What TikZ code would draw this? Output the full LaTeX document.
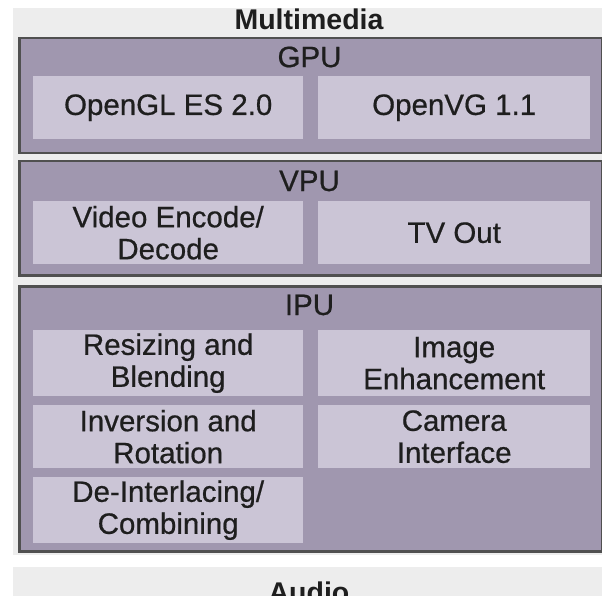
\documentclass[tikz,border=0pt]{standalone}
\usepackage{fontspec}
\setmainfont{Liberation Sans}
\definecolor{bgl}{HTML}{EDEDED}
\definecolor{frm}{HTML}{A097AF}
\definecolor{inb}{HTML}{CBC5D6}
\definecolor{edg}{HTML}{505050}
\definecolor{txt}{HTML}{1E1E1E}
\tikzset{
  frame/.style={draw=edg, line width=2.5pt, fill=frm, rectangle, inner sep=0pt, anchor=north west},
  inbox/.style={fill=inb, rectangle, inner sep=0pt, anchor=north west, text=txt, align=center,
    font=\fontsize{29.5}{32}\selectfont\addfontfeatures{FakeBold=0.6}},
  lbl/.style={text=txt, font=\fontsize{29.5}{32}\selectfont\addfontfeatures{FakeBold=0.6}},
  head/.style={text=txt, font=\fontsize{28.5}{30}\selectfont\bfseries}
}
\begin{document}
\begin{tikzpicture}[x=1pt,y=-1pt]
\clip (0,0) rectangle (602,596);
\fill[white] (0,0) rectangle (602,596);
\fill[bgl] (13,8) rectangle (602,555);
\node[head] (mm) at (309,19) {Multimedia};
% GPU
\node[frame, minimum width=583pt, minimum height=115pt] (gpu) at (18,37) {};
\node[lbl] (gpul) at (309.5,57) {GPU};
\node[inbox, minimum width=270pt, minimum height=63pt] (ogl) at (33,76) {OpenGL ES 2.0};
\node[inbox, minimum width=272pt, minimum height=63pt] (ovg) at (318,76) {OpenVG 1.1};
% VPU
\node[frame, minimum width=583pt, minimum height=114pt] (vpu) at (18,160) {};
\node[lbl] (vpul) at (309.5,181) {VPU};
\node[inbox, minimum width=270pt, minimum height=63pt] (ved) at (33,201) {Video Encode/\\Decode};
\node[inbox, minimum width=272pt, minimum height=63pt] (tvo) at (318,201) {TV Out};
% IPU
\node[frame, minimum width=583pt, minimum height=265pt] (ipu) at (18,285) {};
\node[lbl] (ipul) at (309.5,305) {IPU};
\node[inbox, minimum width=270pt, minimum height=66pt] (rb) at (33,330) {Resizing and\\Blending};
\node[inbox, minimum width=272pt, minimum height=66pt] (ie) at (318,330) {Image\\Enhancement};
\node[inbox, minimum width=270pt, minimum height=63pt] (ir) at (33,405) {Inversion and\\Rotation};
\node[inbox, minimum width=272pt, minimum height=63pt] (ci) at (318,405) {Camera\\Interface};
\node[inbox, minimum width=270pt, minimum height=66pt] (dc) at (33,477) {De-Interlacing/\\Combining};
% Audio
\fill[bgl] (13,567) rectangle (602,620);
\node[head] (au) at (309,592) {Audio};
\end{tikzpicture}
\end{document}
